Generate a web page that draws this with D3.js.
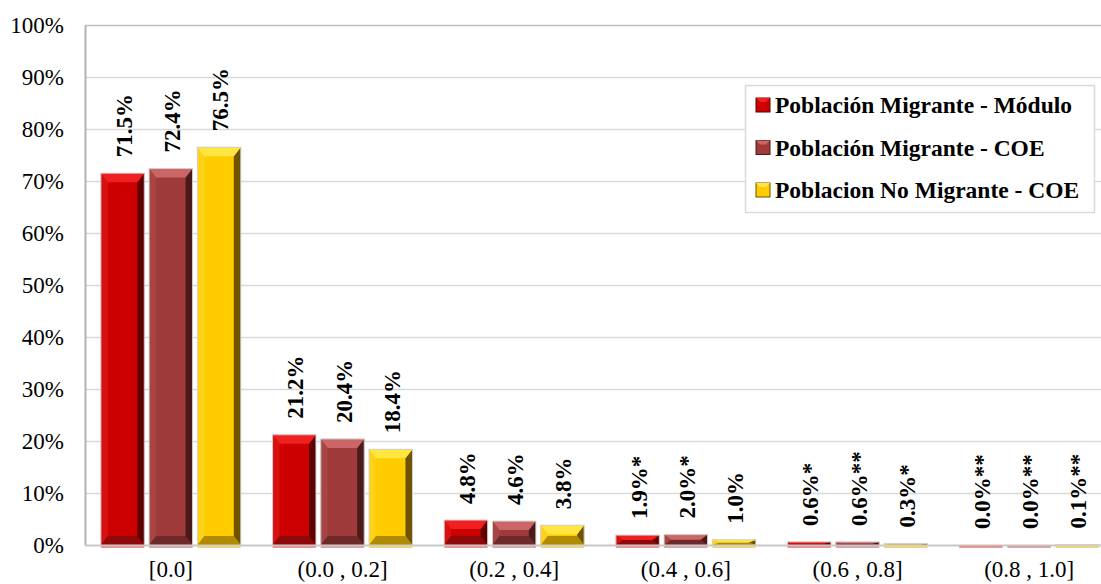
<!DOCTYPE html>
<html>
<head>
<meta charset="utf-8">
<script src="https://cdn.jsdelivr.net/npm/d3@7"></script>
<style>
	body { margin: 0; background: #fff; }
	svg { display: block; font-family: "Liberation Serif", "Times New Roman", serif; }
</style>
</head>
<body>
<svg id="chart" width="1101" height="584"></svg>
<script>
// data
var categories = ["[0.0]", "(0.0 , 0.2]", "(0.2 , 0.4]", "(0.4 , 0.6]", "(0.6 , 0.8]", "(0.8 , 1.0]"];
var seriesNames = ["Población Migrante - Módulo", "Población Migrante - COE", "Poblacion No Migrante - COE"];
var valuesModulo = [71.5, 21.2, 4.8, 1.9, 0.6, 0.0];
var valuesCOE = [72.4, 20.4, 4.6, 2.0, 0.6, 0.0];
var valuesNoMigrante = [76.5, 18.4, 3.8, 1.0, 0.3, 0.1];
var labelsModulo = ["71.5%", "21.2%", "4.8%", "1.9%*", "0.6%*", "0.0%**"];
var labelsCOE = ["72.4%", "20.4%", "4.6%", "2.0%*", "0.6%**", "0.0%**"];
var labelsNoMigrante = ["76.5%", "18.4%", "3.8%", "1.0%", "0.3%*", "0.1%**"];
var yTicks = [0, 10, 20, 30, 40, 50, 60, 70, 80, 90, 100];

// colours: face, light top, dark right, bottom, floor
var palette = [
	{face: "#cc0000", top: "#f02020", right: "#5e0000", bottom: "#8e0a0a", left: "#d81010", floor: "#e39a9a"},
	{face: "#9e3a3a", top: "#cc6666", right: "#4a1a1a", bottom: "#6e2a2a", left: "#a84444", floor: "#d7a9a9"},
	{face: "#ffcc00", top: "#ffe640", right: "#6e5200", bottom: "#b08a00", left: "#ffd21a", floor: "#e9d48a"}
];

var allValues = [valuesModulo, valuesCOE, valuesNoMigrante];
var allLabels = [labelsModulo, labelsCOE, labelsNoMigrante];

var margin = {left: 85, top: 25, bottom: 545};
var plotRight = 1115;

var svg = d3.select("#chart");

var x0 = d3.scaleBand()
	.domain(categories)
	.range([margin.left, plotRight])
	.paddingInner(0.185)
	.paddingOuter(0.0925);

var x1 = d3.scaleBand()
	.domain(d3.range(seriesNames.length))
	.range([0, x0.bandwidth()])
	.paddingInner(0.1);

var y = d3.scaleLinear()
	.domain([0, 100])
	.range([margin.bottom, margin.top]);

// gridlines
svg.append("g")
	.selectAll("line")
	.data(yTicks.filter(function(d) { return d > 0; }))
	.enter()
	.append("line")
		.attr("x1", margin.left)
		.attr("x2", plotRight)
		.attr("y1", function(d) { return y(d) + 0.5; })
		.attr("y2", function(d) { return y(d) + 0.5; })
		.attr("stroke", function(d) { return d === 100 ? "#bfbfbf" : "#d9d9d9"; })
		.attr("stroke-width", 1.5);

// y axis
var yAxis = d3.axisLeft(y)
	.tickValues(yTicks)
	.tickSize(0)
	.tickPadding(21)
	.tickFormat(function(d) { return d + "%"; });

var gy = svg.append("g")
	.attr("transform", "translate(" + margin.left + ",0)")
	.call(yAxis);
gy.select(".domain").attr("stroke", "#b3b3b3").attr("stroke-width", 2);
gy.selectAll("text")
	.attr("font-family", "Liberation Serif, Times New Roman, serif")
	.attr("font-size", 23)
	.attr("fill", "#000");

// x axis
var xAxis = d3.axisBottom(x0).tickSize(0).tickPadding(16);
var gx = svg.append("g")
	.attr("transform", "translate(0," + margin.bottom + ")")
	.call(xAxis);
gx.select(".domain").attr("stroke", "#c8c8c8").attr("stroke-width", 2);
gx.selectAll("text")
	.attr("font-family", "Liberation Serif, Times New Roman, serif")
	.attr("font-size", 23)
	.attr("fill", "#000");

// bars with bevel
function pts(arr) { return arr.map(function(p) { return p.join(","); }).join(" "); }

allValues.forEach(function(vals, s) {
	var col = palette[s];
	var g = svg.append("g").attr("class", "series" + s);
	vals.forEach(function(v, i) {
		var bx = x0(categories[i]) + x1(s);
		var bw = x1.bandwidth();
		var by = y(v);
		var bh = margin.bottom - by;

		// floor strip under the bar
		g.append("rect")
			.attr("x", bx)
			.attr("y", margin.bottom + 0.5)
			.attr("width", bw)
			.attr("height", 2.5)
			.attr("fill", col.floor);

		if (bh <= 0) return;
		var b = Math.min(9, bh / 2);
		var sb = Math.min(7, bw / 2);

		g.append("rect")
			.attr("x", bx).attr("y", by)
			.attr("width", bw).attr("height", bh)
			.attr("fill", col.face);
		g.append("polygon").attr("fill", col.left)
			.attr("points", pts([[bx, by], [bx + sb, by + b], [bx + sb, by + bh - b], [bx, by + bh]]));
		g.append("polygon").attr("fill", col.bottom)
			.attr("points", pts([[bx, by + bh], [bx + bw, by + bh], [bx + bw - sb, by + bh - b], [bx + sb, by + bh - b]]));
		g.append("polygon").attr("fill", col.right)
			.attr("points", pts([[bx + bw, by], [bx + bw, by + bh], [bx + bw - sb, by + bh - b], [bx + bw - sb, by + b]]));
		g.append("polygon").attr("fill", col.top)
			.attr("points", pts([[bx, by], [bx + bw, by], [bx + bw - sb, by + b], [bx + sb, by + b]]));
		g.append("rect")
			.attr("x", bx).attr("y", by)
			.attr("width", bw).attr("height", bh)
			.attr("fill", "none")
			.attr("stroke", "#d0d0d0")
			.attr("stroke-width", 1);
	});

	// value labels
	g.selectAll("text.val")
		.data(vals)
		.enter()
		.append("text")
			.attr("class", "val")
			.attr("transform", function(d, i) {
				var cx = x0(categories[i]) + x1(s) + x1.bandwidth() / 2 + 1;
				return "translate(" + cx + "," + (y(d) - 16) + ") rotate(-90)";
			})
			.attr("dy", "0.35em")
			.attr("font-size", 23)
			.attr("font-weight", "bold")
			.attr("fill", "#000")
			.text(function(d, i) { return allLabels[s][i]; });
});

// legend
var legend = svg.append("g").attr("transform", "translate(745,85)");
legend.append("rect")
	.attr("x", 0.5).attr("y", 0.5)
	.attr("width", 349).attr("height", 127)
	.attr("fill", "#fff")
	.attr("stroke", "#d9d9d9")
	.attr("stroke-width", 1.5);

seriesNames.forEach(function(name, s) {
	var row = legend.append("g").attr("transform", "translate(0," + (20 + s * 42.5) + ")");
	var col = palette[s];
	row.append("rect")
		.attr("x", 11).attr("y", -7)
		.attr("width", 14).attr("height", 14)
		.attr("fill", col.face)
		.attr("stroke", col.right)
		.attr("stroke-width", 1);
	row.append("polygon").attr("fill", col.top)
		.attr("points", "11,-7 25,-7 21,-3 15,-3");
	row.append("text")
		.attr("x", 30)
		.attr("dy", "0.35em")
		.attr("font-size", 23.5)
		.attr("font-weight", "bold")
		.attr("fill", "#000")
		.text(name);
});
</script>
</body>
</html>
